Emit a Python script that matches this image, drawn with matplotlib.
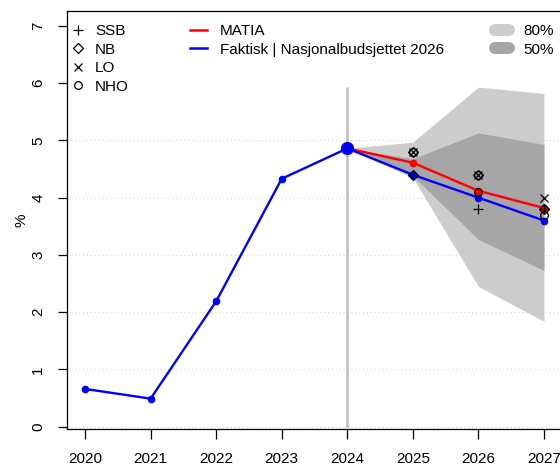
import matplotlib.pyplot as plt
from matplotlib.lines import Line2D

plt.rcParams['font.family'] = ['Liberation Sans', 'DejaVu Sans']
plt.rcParams['font.size'] = 11

# observed / official path
years = [2020, 2021, 2022, 2023, 2024, 2025, 2026, 2027]
faktisk = [0.66, 0.49, 2.19, 4.33, 4.86, 4.40, 4.00, 3.60]

# model forecast and its fan
fc_years = [2024, 2025, 2026, 2027]
matia = [4.86, 4.61, 4.12, 3.82]
lo80 = [4.86, 4.35, 2.45, 1.84]
hi80 = [4.86, 4.97, 5.93, 5.82]
lo50 = [4.86, 4.38, 3.27, 2.73]
hi50 = [4.86, 4.68, 5.13, 4.93]

# other forecasters
ssb_years = [2025, 2026, 2027]
ssb = [4.4, 3.8, 3.8]
nb_years = [2025, 2025, 2026, 2027]
nb = [4.4, 4.8, 4.4, 3.8]
lo_years = [2025, 2026, 2027]
lo = [4.8, 4.4, 4.0]
nho_years = [2025, 2026, 2026, 2027]
nho = [4.8, 4.4, 4.1, 3.7]

fig = plt.figure(figsize=(5.6, 4.65), dpi=100)
ax = fig.add_axes([0.1191, 0.0768, 0.885, 0.8996])

# dotted guides under the fan
for h in range(0, 6):
    ax.axhline(h, color='#d6d6d6', lw=0.8, ls=(0, (1, 2.5)), zorder=0)

ax.fill_between(fc_years, lo80, hi80, color='#cccccc', lw=0, zorder=1)
ax.fill_between(fc_years, lo50, hi50, color='#a6a6a6', lw=0, zorder=2)

ax.vlines(2024, -1, max(hi80), color='#bebebe', lw=1.8, zorder=3)

ax.plot(fc_years, matia, color='red', lw=1.7, marker='o', ms=4.5, zorder=4)
ax.plot(years, faktisk, color='blue', lw=1.7, marker='o', ms=4.5, zorder=5)
ax.plot([2024], [faktisk[4]], 'o', color='blue', ms=8.5, zorder=6)

mk = dict(ls='none', color='black', mfc='none', mew=0.9, zorder=7)
ax.plot(ssb_years, ssb, marker='+', ms=7.5, **mk)
ax.plot(nb_years, nb, marker='D', ms=5.5, **mk)
ax.plot(lo_years, lo, marker='x', ms=5.5, **mk)
ax.plot(nho_years, nho, marker='o', ms=5.5, **mk)

ax.set_xlim(2019.72, 2027.28)
ax.set_ylim(-0.045, 7.26)
ax.set_xticks(years)
ax.set_yticks(range(0, 8))
ax.tick_params(axis='x', length=7, width=0.9, pad=9, labelsize=11)
ax.tick_params(axis='y', length=6.5, width=0.9, pad=9, labelsize=11, labelrotation=90)
for lab in ax.get_yticklabels():
    lab.set_va('center')
for s in ax.spines.values():
    s.set_linewidth(0.9)
fig.text(21 / 560, 1 - 220 / 465, '%', rotation=90, ha='center', va='center', fontsize=11)

# legends: forecasters, lines, fan widths
h1 = [Line2D([], [], ls='none', color='black', mfc='none', marker=m, ms=s, mew=0.9)
      for m, s in [('+', 7.5), ('D', 5.5), ('x', 5.5), ('o', 5.5)]]
leg1 = ax.legend(h1, ['SSB', 'NB', 'LO', 'NHO'], loc='upper left',
                 bbox_to_anchor=(71 / 560, 1 - 24 / 465), bbox_transform=fig.transFigure,
                 frameon=False, borderpad=0, borderaxespad=0, handlelength=0.92,
                 handletextpad=0.65, labelspacing=0.3, fontsize=11)
ax.add_artist(leg1)

h2 = [Line2D([], [], color='red', lw=1.8), Line2D([], [], color='blue', lw=1.8)]
leg2 = ax.legend(h2, ['MATIA', 'Faktisk | Nasjonalbudsjettet 2026'], loc='upper left',
                 bbox_to_anchor=(190 / 560, 1 - 24 / 465), bbox_transform=fig.transFigure,
                 frameon=False, borderpad=0, borderaxespad=0, handlelength=1.1,
                 handletextpad=0.85, labelspacing=0.3, fontsize=11)
ax.add_artist(leg2)

h3 = [Line2D([], [], color='#cccccc', lw=8.6, solid_capstyle='round'),
      Line2D([], [], color='#a6a6a6', lw=8.6, solid_capstyle='round')]
leg3 = ax.legend(h3, ['80%', '50%'], loc='upper left',
                 bbox_to_anchor=(495 / 560, 1 - 24 / 465), bbox_transform=fig.transFigure,
                 frameon=False, borderpad=0, borderaxespad=0, handlelength=0.92,
                 handletextpad=0.92, labelspacing=0.3, fontsize=11)

fig.savefig('out.png', dpi=100)
